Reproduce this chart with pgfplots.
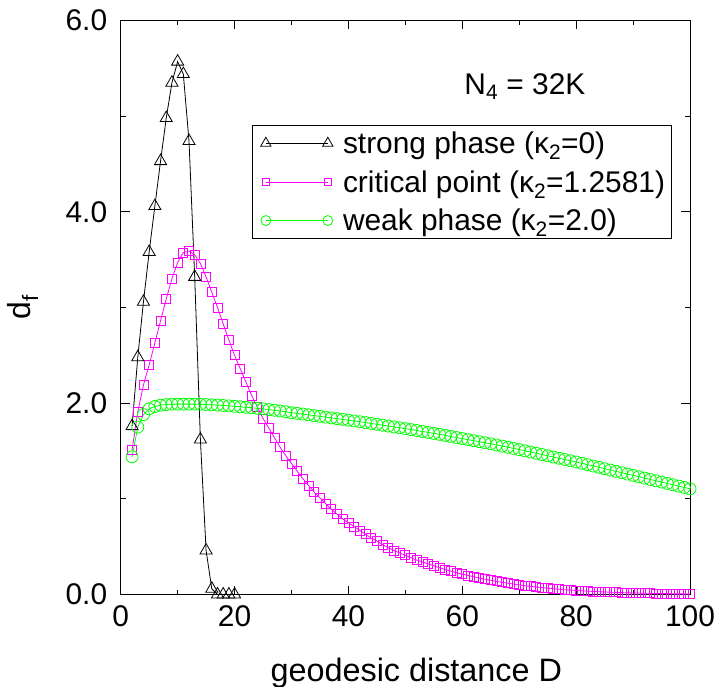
\documentclass[border=0pt]{standalone}
\usepackage{fontspec}
\setmainfont{Liberation Sans}
\usepackage{pgfplots}
\usepackage{pgfplotstable}
\pgfplotsset{compat=1.18}
\definecolor{mag}{RGB}{255,0,255}
\definecolor{grn}{RGB}{0,255,0}

\pgfplotstableread{
D v
2 1.76
3 2.48
4 3.06
5 3.58
6 4.06
7 4.53
8 4.98
9 5.35
10 5.57
11 5.44
12 4.74
13 3.32
14 1.62
15 0.46
16 0.06
17 0.0
18 0.0
19 0.0
20 0.0
}\strong

\pgfplotstableread{
D v
2 1.51
3 1.91
4 2.19
5 2.40
6 2.63
7 2.86
8 3.09
9 3.30
10 3.47
11 3.575
12 3.59
13 3.55
14 3.46
15 3.32
16 3.16
17 3.00
18 2.83
19 2.66
20 2.50
21 2.36
22 2.22
23 2.08
24 1.96
25 1.84
26 1.74
27 1.64
28 1.54
29 1.45
30 1.37
31 1.29
32 1.21
33 1.14
34 1.07
35 1.01
36 0.95
37 0.89
38 0.84
39 0.79
40 0.75
41 0.71
42 0.67
43 0.63
44 0.59
45 0.56
46 0.52
47 0.49
48 0.46
49 0.435
50 0.41
51 0.385
52 0.36
53 0.34
54 0.32
55 0.30
56 0.28
57 0.26
58 0.245
59 0.228
60 0.213
61 0.199
62 0.185
63 0.172
64 0.16
65 0.148
66 0.137
67 0.127
68 0.118
69 0.109
70 0.10
71 0.092
72 0.085
73 0.078
74 0.072
75 0.066
76 0.060
77 0.055
78 0.050
79 0.046
80 0.042
81 0.038
82 0.035
83 0.032
84 0.029
85 0.026
86 0.024
87 0.022
88 0.020
89 0.018
90 0.016
91 0.015
92 0.013
93 0.012
94 0.011
95 0.010
96 0.009
97 0.008
98 0.007
99 0.006
100 0.006
}\critical

\pgfplotstableread{
D v
2 1.44
3 1.75
4 1.88
5 1.94
6 1.965
7 1.978
8 1.985
9 1.99
10 1.99
11 1.99
12 1.99
13 1.99
14 1.988
15 1.986
16 1.983
17 1.98
18 1.976
19 1.972
20 1.967
21 1.962
22 1.957
23 1.952
24 1.946
25 1.94
26 1.933
27 1.926
28 1.918
29 1.91
30 1.90
31 1.893
32 1.886
33 1.878
34 1.87
35 1.862
36 1.854
37 1.846
38 1.838
39 1.83
40 1.822
41 1.814
42 1.806
43 1.797
44 1.788
45 1.779
46 1.77
47 1.761
48 1.752
49 1.743
50 1.734
51 1.724
52 1.714
53 1.704
54 1.694
55 1.684
56 1.674
57 1.663
58 1.652
59 1.641
60 1.63
61 1.619
62 1.608
63 1.597
64 1.586
65 1.575
66 1.563
67 1.551
68 1.539
69 1.527
70 1.515
71 1.502
72 1.489
73 1.476
74 1.463
75 1.45
76 1.437
77 1.424
78 1.411
79 1.398
80 1.385
81 1.371
82 1.357
83 1.343
84 1.329
85 1.315
86 1.301
87 1.287
88 1.273
89 1.259
90 1.245
91 1.231
92 1.217
93 1.203
94 1.189
95 1.175
96 1.161
97 1.147
98 1.133
99 1.119
100 1.105
}\weak

\begin{document}
\begin{tikzpicture}
\useasboundingbox (-120.7bp,-92.5bp) rectangle (595.3bp,594.5bp);
\begin{axis}[
  scale only axis,
  anchor=south west,
  at={(0,0)},
  width=569.3bp, height=574bp,
  xmin=0, xmax=100, ymin=0, ymax=6,
  xtick={0,20,40,60,80,100},
  ytick={0,2,4,6},
  minor x tick num=1,
  minor y tick num=1,
  tick align=inside,
  major tick length=9bp,
  minor tick length=5bp,
  axis line style={line width=0.9bp},
  every tick/.style={black, line width=0.9bp},
  /pgf/number format/assume math mode=true,
  yticklabel style={/pgf/number format/fixed, /pgf/number format/fixed zerofill, /pgf/number format/precision=1, xshift=-10bp},
  tick label style={font=\fontsize{30}{36}\selectfont},
  xticklabel style={yshift=-8bp},
  xlabel={geodesic distance D},
  xlabel style={font=\fontsize{32.5}{38}\selectfont, at={(axis description cs:0.5,0)}, anchor=base, yshift=-87bp, xshift=11bp},
  ylabel={d\textsubscript{f}},
  ylabel style={font=\fontsize{32}{38}\selectfont, at={(axis description cs:0,0.5)}, anchor=center, yshift=98bp},
  legend cell align=left,
  legend image code/.code={\path (0bp,0bp); \draw[#1] plot coordinates {(10bp,0bp) (72bp,0bp)};},
  legend style={at={(axis cs:23.06,4.905)}, anchor=north west, draw=black, line width=0.9bp,
    font=\fontsize{30}{35}\selectfont, inner xsep=3bp, inner ysep=3bp, row sep=9.5bp,
    nodes={inner sep=3bp},
    /tikz/every odd column/.append style={column sep=7bp}},
]
\addplot[mag, line width=0.8bp, mark=square, mark size=4.5bp, mark options={draw=mag, fill=none, solid, line width=0.8bp}, forget plot] table[x=D,y=v] {\critical};
\addplot[black, line width=0.8bp, mark=triangle, mark size=7bp, mark options={draw=black, fill=none, line width=0.8bp}, forget plot] table[x=D,y=v] {\strong};
\addplot[grn, line width=0.8bp, mark=o, mark size=6bp, mark options={draw=grn, fill=none, line width=0.8bp}, forget plot] table[x=D,y=v] {\weak};
\addlegendimage{black, line width=0.8bp, mark=triangle, mark size=6bp, mark options={draw=black, fill=none, line width=0.8bp}}
\addlegendentry{strong phase (κ\textsubscript{2}=0)}
\addlegendimage{mag, line width=0.8bp, mark=square, mark size=3.6bp, mark options={draw=mag, fill=none, line width=0.8bp}}
\addlegendentry{critical point (κ\textsubscript{2}=1.2581)}
\addlegendimage{grn, line width=0.8bp, mark=o, mark size=5bp, mark options={draw=grn, fill=none, line width=0.8bp}}
\addlegendentry{weak phase (κ\textsubscript{2}=2.0)}
\node[font=\fontsize{30}{34}\selectfont] at (axis cs:71,5.31) {N\textsubscript{4} = 32K};
\end{axis}
\end{tikzpicture}
\end{document}
